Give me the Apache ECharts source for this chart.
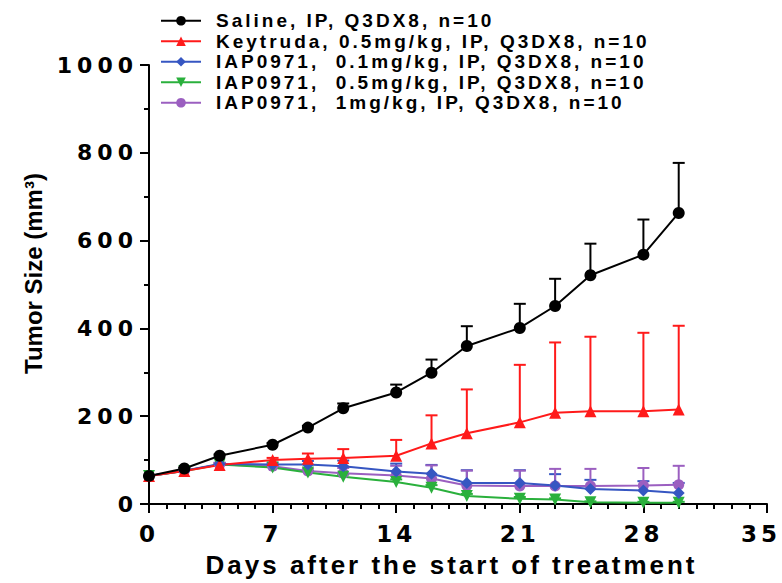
<!DOCTYPE html>
<html>
<head>
<meta charset="utf-8">
<script src="https://cdn.jsdelivr.net/npm/echarts@6/dist/echarts.min.js"></script>
<style>
    html, body { margin: 0; padding: 0; background: #fff; }
    #chart { width: 782px; height: 583px; }
    /* echarts has no letter spacing option, the svg renderer lets css do it */
    #chart svg text { white-space: pre; }
    #chart svg text[style*="19px"] { letter-spacing: 3px; }
    #chart svg text[style*="22px"] { letter-spacing: 5px; }
    #chart svg text[style*="23px"] { letter-spacing: 4px; }
    #chart svg text[style*="26px"] { letter-spacing: 3px; }
</style>
</head>
<body>
<div id="chart"></div>
<script>
// days after start of treatment
let days = [0, 2, 4, 7, 9, 11, 14, 16, 18, 21, 23, 25, 28, 30];

let names = [
    "Saline, IP, Q3DX8, n=10",
    "Keytruda, 0.5mg/kg, IP, Q3DX8, n=10",
    "IAP0971,  0.1mg/kg, IP, Q3DX8, n=10",
    "IAP0971,  0.5mg/kg, IP, Q3DX8, n=10",
    "IAP0971,  1mg/kg, IP, Q3DX8, n=10"
];

// mean tumor size (mm3)
let saline   = [64, 81, 110, 135, 174, 218, 254, 299, 360, 401, 451, 521, 568, 663];
let keytruda = [64, 75, 89, 100, 103, 105, 110, 138, 161, 186, 208, 211, 211, 215];
let iap01    = [64, 76, 91, 90, 90, 86, 74, 69, 48, 48, 42, 34, 31, 25];
let iap05    = [64, 75, 90, 83, 72, 62, 50, 37, 18, 12, 10, 4, 3, 3];
let iap1     = [64, 76, 90, 86, 75, 70, 65, 58, 42, 41, 41, 41, 42, 44];

// upper error (SEM)
let salineErr   = [0, 2, 3, 4, 4, 11, 18, 30, 45, 55, 62, 72, 80, 114];
let keytrudaErr = [0, 2, 3, 5, 12, 20, 36, 64, 100, 131, 160, 170, 179, 191];
let iap01Err    = [0, 2, 3, 4, 8, 13, 18, 20, 29, 29, 26, 21, 21, 23];
let iap05Err    = [0, 0, 0, 3, 4, 5, 6, 6, 5, 4, 3, 2, 2, 2];
let iap1Err     = [0, 2, 3, 4, 6, 12, 22, 30, 34, 35, 39, 39, 40, 43];

let colours = ['#000000', '#ff1a1a', '#3656c2', '#2ab03c', '#9b5fc0'];
let symbols = ['circle', 'triangle', 'diamond', 'triangle', 'circle'];
let sizes   = [12, 12, 12, 12, 11];
let rotates = [0, 0, 0, 180, 0];

let means = [saline, keytruda, iap01, iap05, iap1];
let errs  = [salineErr, keytrudaErr, iap01Err, iap05Err, iap1Err];

function errorBars(colour)
{
    return function (params, api) {
        let x = api.value(0);
        let m = api.value(1);
        let e = api.value(2);
        if (!(e > 0)) return;
        let p0 = api.coord([x, m]);
        let p1 = api.coord([x, m + e]);
        return {
            type: 'group',
            children: [
                { type: 'line', shape: { x1: p0[0], y1: p0[1], x2: p1[0], y2: p1[1] },
                  style: { stroke: colour, lineWidth: 2 } },
                { type: 'line', shape: { x1: p1[0] - 6, y1: p1[1], x2: p1[0] + 6, y2: p1[1] },
                  style: { stroke: colour, lineWidth: 2 } }
            ]
        };
    };
}

let series = [];
// error bars first, so the lines and markers sit over them
means.forEach((m, k) => {
    series.push({
        name: names[k] + ' err',
        type: 'custom',
        renderItem: errorBars(colours[k]),
        data: days.map((d, i) => [d, m[i], errs[k][i]]),
        z: 1
    });
});
// drawn from last to first so saline ends on top
for (let k = means.length - 1; k >= 0; k--) {
    series.push({
        name: names[k],
        type: 'line',
        data: days.map((d, i) => [d, means[k][i]]),
        symbol: symbols[k],
        symbolSize: sizes[k],
        symbolRotate: rotates[k],
        color: colours[k],
        lineStyle: { width: 2, color: colours[k] },
        itemStyle: { color: colours[k] },
        z: 3
    });
}

let axisFont = { fontFamily: 'DejaVu Sans', fontWeight: 'bold', color: '#000' };

let option = {
    animation: false,
    grid: { left: 149, right: 15, top: 65, bottom: 75, containLabel: false },
    legend: {
        orient: 'vertical',
        left: 155,
        top: 6,
        itemWidth: 40,
        itemHeight: 12,
        itemGap: 1,
        data: names,
        textStyle: {
            fontFamily: 'Liberation Sans', fontWeight: 'bold', fontSize: 19,
            lineHeight: 19.5, color: '#000', padding: [0, 0, 0, 10]
        }
    },
    xAxis: {
        type: 'value',
        min: 0,
        max: 35,
        interval: 7,
        name: 'Days after the start of treatment',
        nameLocation: 'middle',
        nameGap: 48,
        nameTextStyle: {
            fontFamily: 'Liberation Sans', fontWeight: 'bold', fontSize: 26,
            color: '#000', padding: [0, 13, 0, 0]
        },
        axisLine: { show: true, onZero: false, lineStyle: { color: '#000', width: 2 } },
        axisTick: { show: true, length: 9, lineStyle: { color: '#000', width: 2 } },
        minorTick: { show: true, splitNumber: 7, length: 5, lineStyle: { color: '#000', width: 2 } },
        splitLine: { show: false },
        axisLabel: Object.assign({
            fontSize: 23,
            margin: 18,
            formatter: v => v === 35 ? '{e|' + v + '}' : String(v),
            rich: { e: { padding: [0, 12, 0, 0] } }
        }, axisFont)
    },
    yAxis: {
        type: 'value',
        min: 0,
        max: 1000,
        interval: 200,
        name: 'Tumor Size (mm³)',
        nameLocation: 'middle',
        nameGap: 104,
        nameTextStyle: {
            fontFamily: 'Liberation Sans', fontWeight: 'bold', fontSize: 24,
            color: '#000', padding: [0, 0, 0, 22]
        },
        axisLine: { show: true, lineStyle: { color: '#000', width: 2 } },
        axisTick: { show: true, length: 9, lineStyle: { color: '#000', width: 2 } },
        minorTick: { show: true, splitNumber: 2, length: 5, lineStyle: { color: '#000', width: 2 } },
        splitLine: { show: false },
        axisLabel: Object.assign({ fontSize: 22, margin: 11, formatter: v => String(v) }, axisFont)
    },
    series: series
};

let myChart = echarts.init(document.getElementById('chart'), null, { renderer: 'svg' });
myChart.setOption(option);
</script>
</body>
</html>
